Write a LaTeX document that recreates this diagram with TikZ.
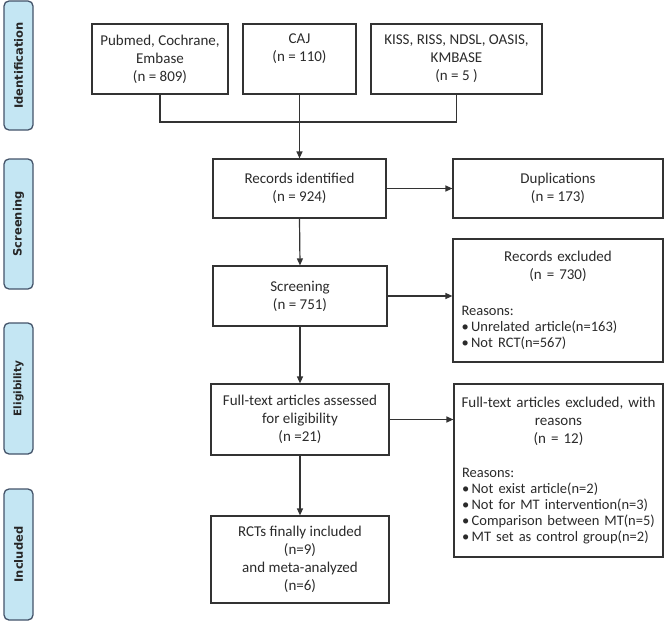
\documentclass[tikz,border=0pt]{standalone}
\usepackage{fontspec}
\setmainfont{Carlito}
\newfontfamily\barfont{DejaVu Sans}
\usetikzlibrary{arrows.meta}
\definecolor{linecol}{HTML}{333333}
\definecolor{txtcol}{HTML}{2B2B2B}
\definecolor{barfill}{HTML}{C4E6F3}
\definecolor{barline}{HTML}{44546A}
\begin{document}
\begin{tikzpicture}[x=1pt,y=-1pt,
  every node/.style={font=\fontsize{15}{18}\selectfont, text=txtcol},
  box/.style={draw=linecol, line width=1.2pt, inner sep=0pt, align=center},
  bar/.style={draw=barline, fill=barfill, line width=1.3pt, rounded corners=5pt,
    minimum height=29pt, inner sep=0pt, rotate=90,
    font=\barfont\bfseries\fontsize{11.5}{13}\selectfont, text=black!85},
  conn/.style={draw=linecol, line width=1.2pt},
  arr/.style={conn, -{Triangle[length=7pt,width=6pt]}}]
\fill[white] (0,0) rectangle (667,626);
\useasboundingbox (0,0) rectangle (667,626);

% side bars
\node[bar, minimum width=129pt] (bid) at (18.5,65.5) {Identification};
\node[bar, minimum width=130pt] (bsc) at (18.5,224) {Screening};
\node[bar, minimum width=131pt, font=\barfont\bfseries\fontsize{10.5}{12}\selectfont] (bel) at (18.5,388.5) {Eligibility};
\node[bar, minimum width=131pt] (bin) at (18.5,554.5) {Included};

% sources
\node[box, minimum width=136pt, minimum height=70pt] (src1) at (160,59) {Pubmed, Cochrane,\\Embase\\(n = 809)};
\node[box, minimum width=113pt, minimum height=70pt] (src2) at (299.5,59) {CAJ\\(n = 110)\\\strut};
\node[box, minimum width=171pt, minimum height=70pt] (src3) at (456.5,59) {KISS, RISS, NDSL, OASIS,\\KMBASE\\(n = 5 )};

% main column
\node[box, minimum width=173pt, minimum height=59pt] (rec) at (299.5,188.5) {Records identified\\(n = 924)};
\node[box, minimum width=174pt, minimum height=60pt] (scr) at (300,296) {Screening\\(n = 751)};
\node[box, minimum width=178pt, minimum height=71pt] (full) at (300,419.5) {Full-text articles assessed\\for eligibility\\(n =21)};
\node[box, minimum width=178pt, minimum height=87pt] (rct) at (300,559.5) {RCTs finally included\\(n=9)\\and meta-analyzed\\(n=6)};

% right column
\node[box, minimum width=210pt, minimum height=59pt] (dup) at (558,188.5) {Duplications\\(n = 173)};
\node[box, minimum width=210pt, minimum height=123pt, text width=205pt] (excl) at (558,300.5)
  {\parindent=0pt Records excluded\\(n = 730)\par\vspace{20pt}%
   \raggedright\leftskip=6pt\fontsize{14.5}{16}\selectfont
   Reasons:\\\mbox{•\,Unrelated article(n=163)}\\\mbox{•\,Not RCT(n=567)}\par};
\node[box, minimum width=209pt, minimum height=173pt, text width=205pt] (fexcl) at (558.5,470.5)
  {\parindent=0pt \mbox{Full-text articles excluded, with}\\reasons\\(n = 12)\par\vspace{18pt}%
   \raggedright\leftskip=6pt\fontsize{14.5}{16}\selectfont
   Reasons:\\\mbox{•\,Not exist article(n=2)}\\\mbox{•\,Not for MT intervention(n=3)}\\\mbox{•\,Comparison between MT(n=5)}\\\mbox{•\,MT set as control group(n=2)}\par};

% connectors
\coordinate (jn) at (300,122);
\draw[conn] (src1.south) |- (jn) -| (src3.south);
\draw[arr] (src2.south) -- (rec.north);
\draw[arr] (rec.east) -- (rec.east -| dup.west);
\draw[arr] (rec.south) -- (scr.north);
\draw[arr] (scr.east) -- (scr.east -| excl.west);
\draw[arr] (scr.south) -- (full.north);
\draw[arr] (full.east) -- (full.east -| fexcl.west);
\draw[arr] (full.south) -- (rct.north);
\end{tikzpicture}
\end{document}
